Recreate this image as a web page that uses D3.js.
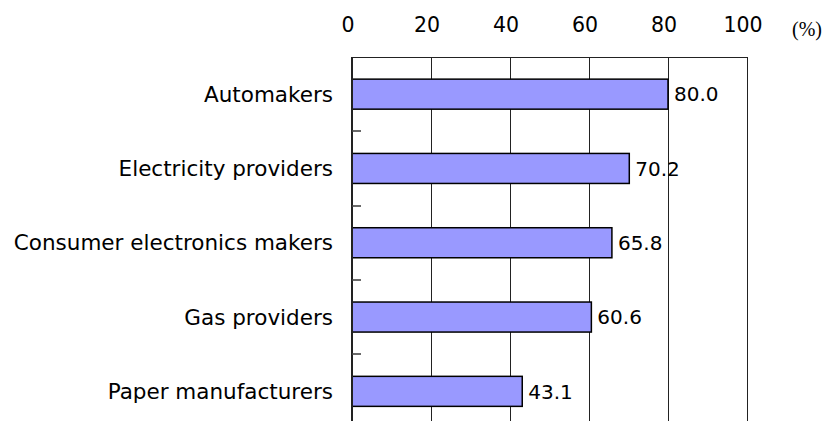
<!DOCTYPE html>
<html><head><meta charset="utf-8">
<script src="https://cdn.jsdelivr.net/npm/d3@7"></script>
<style>body{margin:0;background:#fff;overflow:hidden}</style>
</head><body>
<svg id="c" width="829" height="421" style="display:block"></svg>
<script>
const categories = ["Automakers","Electricity providers","Consumer electronics makers","Gas providers","Paper manufacturers"];
const values = [80.0, 70.2, 65.8, 60.6, 43.1];
const tickValues = [0, 20, 40, 60, 80, 100];
const unitLabel = "(%)";

(function () {
const svg = d3.select("#c");
const mLeft = 352, mRight = 747, mTop = 57, step = 74.3;
const x = d3.scaleLinear().domain([0, 100]).range([mLeft, mRight]);
const y = d3.scaleBand().domain(categories).range([mTop, mTop + step * categories.length]).paddingInner(0.596).paddingOuter(0.298);

// gridlines
svg.append("g").selectAll("line").data(tickValues.filter(d => d > 0)).join("line")
  .attr("x1", d => x(d)).attr("x2", d => x(d))
  .attr("y1", mTop).attr("y2", 440)
  .attr("stroke", "#222").attr("stroke-width", 1).attr("shape-rendering", "crispEdges");
// top border
svg.append("line").attr("x1", mLeft).attr("x2", mRight).attr("y1", mTop).attr("y2", mTop)
  .attr("stroke", "#222").attr("stroke-width", 1).attr("shape-rendering", "crispEdges");

// bars
svg.append("g").selectAll("rect").data(values).join("rect")
  .attr("x", x(0))
  .attr("y", (d, i) => y(categories[i]))
  .attr("width", d => x(d) - x(0))
  .attr("height", y.bandwidth())
  .attr("fill", "#9999ff").attr("stroke", "#000").attr("stroke-width", 1.5);

// left axis line
svg.append("line").attr("x1", mLeft).attr("x2", mLeft).attr("y1", mTop).attr("y2", 440)
  .attr("stroke", "#222").attr("stroke-width", 2);

// category separator ticks
const sepYs = categories.slice(1).map(c => Math.round(y(c) - y.step() * y.paddingInner() / 2));
svg.append("g").selectAll("line").data(sepYs).join("line")
  .attr("x1", mLeft).attr("x2", mLeft + 9)
  .attr("y1", d => d).attr("y2", d => d)
  .attr("stroke", "#444").attr("stroke-width", 1.6);

// category labels
svg.append("g").selectAll("text").data(categories).join("text")
  .attr("x", 333).attr("y", d => y(d) + y.bandwidth() / 2)
  .attr("dy", "0.36em").attr("text-anchor", "end")
  .attr("font-family", "DejaVu Sans").attr("font-size", 21.5).attr("fill", "#000")
  .text(d => d);

// value labels
svg.append("g").selectAll("text").data(values).join("text")
  .attr("x", d => x(d) + 6).attr("y", (d, i) => y(categories[i]) + y.bandwidth() / 2)
  .attr("dy", "0.36em")
  .attr("font-family", "DejaVu Sans").attr("font-size", 20).attr("fill", "#000")
  .text(d => d.toFixed(1));

// top tick labels
svg.append("g").selectAll("text").data(tickValues).join("text")
  .attr("x", d => x(d) - 4).attr("y", 32)
  .attr("text-anchor", "middle")
  .attr("font-family", "DejaVu Sans").attr("font-size", 20.5).attr("fill", "#000")
  .text(d => d);

svg.append("text").attr("x", 807).attr("y", 36).attr("text-anchor", "middle")
  .attr("font-family", "Liberation Serif").attr("font-size", 20).attr("fill", "#000")
  .text(unitLabel);
})();
</script>
</body></html>
